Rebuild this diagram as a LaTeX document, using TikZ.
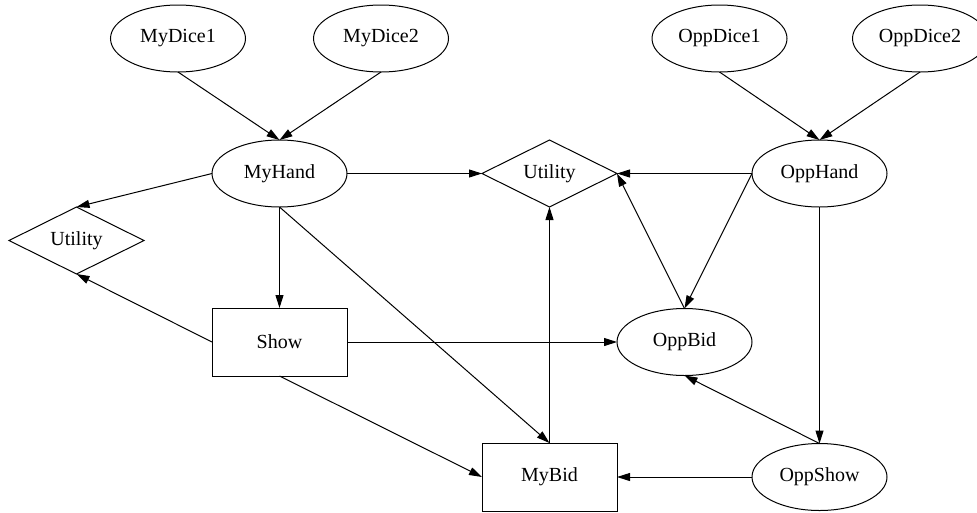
\documentclass[tikz,border=0pt]{standalone}
\usepackage{fontspec}
\setmainfont{Liberation Serif}
\usetikzlibrary{shapes.geometric,arrows.meta}
\begin{document}
\begin{tikzpicture}[x=1pt,y=-1pt,
 base/.style={draw, line width=1pt, font=\fontsize{20}{24}\selectfont, inner sep=0pt, outer sep=0pt},
 chance/.style={base, ellipse, minimum width=135pt, minimum height=67pt},
 decision/.style={base, rectangle, minimum width=135pt, minimum height=68pt},
 utility/.style={base, diamond, aspect=2, minimum width=135pt, minimum height=67pt},
 edge/.style={line width=1pt, -{Triangle[length=13pt,width=8pt]}}]
\useasboundingbox (0,0) rectangle (977,512);
\node[chance] (md1) at (178,38.5) {MyDice1};
\node[chance] (md2) at (381,38.5) {MyDice2};
\node[chance] (od1) at (719.5,38.5) {OppDice1};
\node[chance] (od2) at (920,38.5) {OppDice2};
\node[chance] (mh) at (279.5,173.5) {MyHand};
\node[utility] (ut) at (549.5,173.5) {Utility};
\node[chance] (oh) at (819.5,173.5) {OppHand};
\node[utility] (ul) at (76.5,240.5) {Utility};
\node[decision] (sh) at (279.5,342) {Show};
\node[chance] (ob) at (684.5,342) {OppBid};
\node[decision] (mb) at (549.5,477) {MyBid};
\node[chance] (os) at (819.5,477) {OppShow};
\draw[edge] (md1.south) -- (mh.north);
\draw[edge] (md2.south) -- (mh.north);
\draw[edge] (od1.south) -- (oh.north);
\draw[edge] (od2.south) -- (oh.north);
\draw[edge] (mh.west) -- (ul.north);
\draw[edge] (mh.east) -- (ut.west);
\draw[edge] (mh.south) -- (sh.north);
\draw[edge] (mh.south) -- (mb.north);
\draw[edge] (oh.west) -- (ut.east);
\draw[edge] (oh.west) -- (ob.north);
\draw[edge] (oh.south) -- (os.north);
\draw[edge] (sh.west) -- (ul.south);
\draw[edge] (sh.east) -- (ob.west);
\draw[edge] (sh.south) -- (mb.west);
\draw[edge] (ob.north) -- (ut.east);
\draw[edge] (mb.north) -- (ut.south);
\draw[edge] (os.north) -- (ob.south);
\draw[edge] (os.west) -- (mb.east);
\end{tikzpicture}
\end{document}
